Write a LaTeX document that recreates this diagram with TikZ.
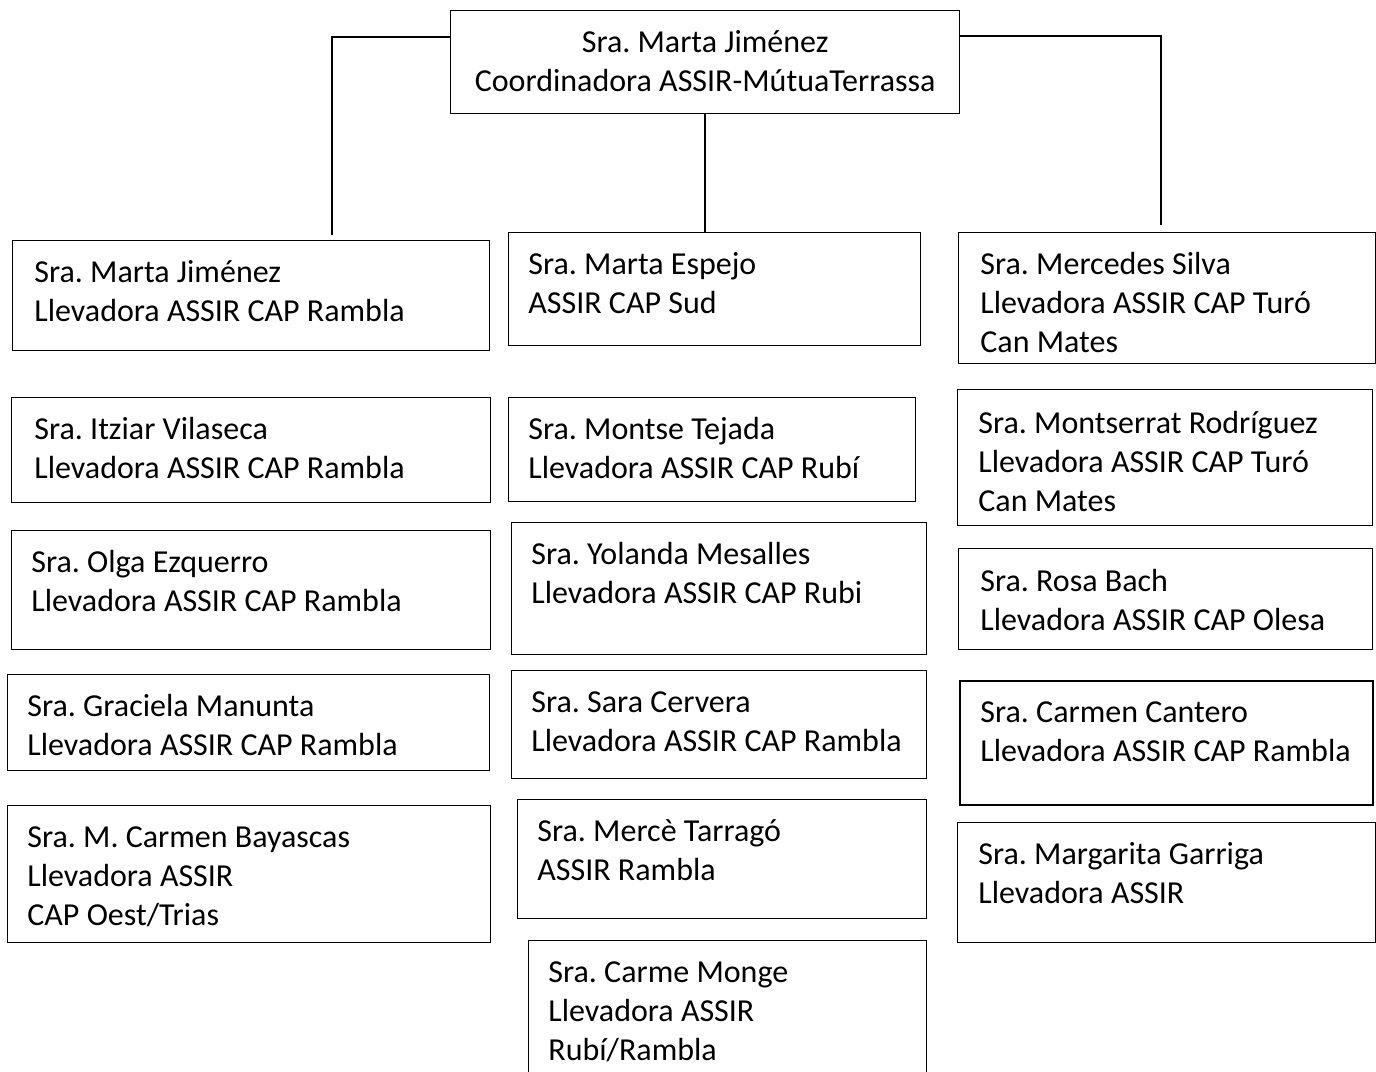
\documentclass[tikz,border=0pt]{standalone}
\usepackage{fontspec}
\setmainfont{Carlito}
\frenchspacing
\usetikzlibrary{calc}

% lines of text inside one box, first baseline on top
\newcommand{\cardlines}[1]{\begin{tabular}[t]{@{}l@{}}#1\end{tabular}}

\begin{document}
\begin{tikzpicture}[x=0.5pt, y=-0.5pt,
  card/.style={draw, line width=0.65pt, inner sep=0pt, anchor=north west},
  who/.style={anchor=base west, inner sep=0pt, font=\fontsize{16}{19.5}\selectfont},
  link/.style={line width=1pt}]

  \useasboundingbox (0,0) rectangle (1376,1071);

  % Coordinator
  \node[card, minimum width=254.5pt, minimum height=51.5pt] (head) at (450,10) {};
  \node[who, anchor=base] (head-txt) at ([yshift=-21pt]head.north)
    {\begin{tabular}[t]{@{}c@{}}Sra. Marta Jiménez\\Coordinadora ASSIR-MútuaTerrassa\end{tabular}};

  % Left column
  \node[card, minimum width=238.5pt, minimum height=55pt] (l1) at (12,240) {};
  \node[who] (l1-txt) at ([shift={(11pt,-21pt)}]l1.north west)
    {\cardlines{Sra. Marta Jiménez\\Llevadora ASSIR CAP Rambla}};
  \node[card, minimum width=239.5pt, minimum height=52.5pt] (l2) at (11,397) {};
  \node[who] (l2-txt) at ([shift={(11.5pt,-21pt)}]l2.north west)
    {\cardlines{Sra. Itziar Vilaseca\\Llevadora ASSIR CAP Rambla}};
  \node[card, minimum width=239.5pt, minimum height=59.5pt] (l3) at (11,530) {};
  \node[who] (l3-txt) at ([shift={(10pt,-21pt)}]l3.north west)
    {\cardlines{Sra. Olga Ezquerro\\Llevadora ASSIR CAP Rambla}};
  \node[card, minimum width=241pt, minimum height=48pt] (l4) at (7,674) {};
  \node[who] (l4-txt) at ([shift={(10pt,-21pt)}]l4.north west)
    {\cardlines{Sra. Graciela Manunta\\Llevadora ASSIR CAP Rambla}};
  \node[card, minimum width=241.5pt, minimum height=68.5pt] (l5) at (7,805) {};
  \node[who] (l5-txt) at ([shift={(10pt,-21pt)}]l5.north west)
    {\cardlines{Sra. M. Carmen Bayascas\\Llevadora ASSIR\\CAP Oest/Trias}};

  % Middle column
  \node[card, minimum width=206pt, minimum height=56.5pt] (m1) at (508,232) {};
  \node[who] (m1-txt) at ([shift={(10pt,-21pt)}]m1.north west)
    {\cardlines{Sra. Marta Espejo\\ASSIR CAP Sud}};
  \node[card, minimum width=203.5pt, minimum height=52pt] (m2) at (508,397) {};
  \node[who] (m2-txt) at ([shift={(10pt,-21pt)}]m2.north west)
    {\cardlines{Sra. Montse Tejada\\Llevadora ASSIR CAP Rubí}};
  \node[card, minimum width=207.5pt, minimum height=66pt] (m3) at (511,522) {};
  \node[who] (m3-txt) at ([shift={(10pt,-21pt)}]m3.north west)
    {\cardlines{Sra. Yolanda Mesalles\\Llevadora ASSIR CAP Rubi}};
  \node[card, minimum width=207.5pt, minimum height=54pt] (m4) at (511,670) {};
  \node[who] (m4-txt) at ([shift={(10pt,-21pt)}]m4.north west)
    {\cardlines{Sra. Sara Cervera\\Llevadora ASSIR CAP Rambla}};
  \node[card, minimum width=204.5pt, minimum height=59.5pt] (m5) at (517,799) {};
  \node[who] (m5-txt) at ([shift={(10pt,-21pt)}]m5.north west)
    {\cardlines{Sra. Mercè Tarragó\\ASSIR Rambla}};
  \node[card, minimum width=199pt, minimum height=80pt] (m6) at (528,940) {};
  \node[who] (m6-txt) at ([shift={(10pt,-21pt)}]m6.north west)
    {\cardlines{Sra. Carme Monge\\Llevadora ASSIR\\Rubí/Rambla}};

  % Right column
  \node[card, minimum width=208.5pt, minimum height=65.5pt] (r1) at (958,232) {};
  \node[who] (r1-txt) at ([shift={(11pt,-21pt)}]r1.north west)
    {\cardlines{Sra. Mercedes Silva\\Llevadora ASSIR CAP Turó\\Can Mates}};
  \node[card, minimum width=207.5pt, minimum height=68pt] (r2) at (957,389) {};
  \node[who] (r2-txt) at ([shift={(10.5pt,-22pt)}]r2.north west)
    {\cardlines{Sra. Montserrat Rodríguez\\Llevadora ASSIR CAP Turó\\Can Mates}};
  \node[card, minimum width=207pt, minimum height=50.5pt] (r3) at (958,548) {};
  \node[who] (r3-txt) at ([shift={(11pt,-21.5pt)}]r3.north west)
    {\cardlines{Sra. Rosa Bach\\Llevadora ASSIR CAP Olesa}};
  \node[card, line width=1pt, minimum width=206.5pt, minimum height=62pt] (r4) at (959,680) {};
  \node[who] (r4-txt) at ([shift={(10.5pt,-21pt)}]r4.north west)
    {\cardlines{Sra. Carmen Cantero\\Llevadora ASSIR CAP Rambla}};
  \node[card, minimum width=209pt, minimum height=60pt] (r5) at (957,822) {};
  \node[who] (r5-txt) at ([shift={(10.5pt,-21pt)}]r5.north west)
    {\cardlines{Sra. Margarita Garriga\\Llevadora ASSIR}};

  % Connectors from the coordinator
  \draw[link, shorten >=2.5pt] ([yshift=-13.5pt]head.north west) -| ([xshift=40.25pt]l1.north);
  \draw[link] (head.south) -- (head.south |- m1.north);
  \draw[link, shorten >=3.5pt] ([yshift=-13pt]head.north east) -| ([xshift=-3.25pt]r1.north);

\end{tikzpicture}
\end{document}
